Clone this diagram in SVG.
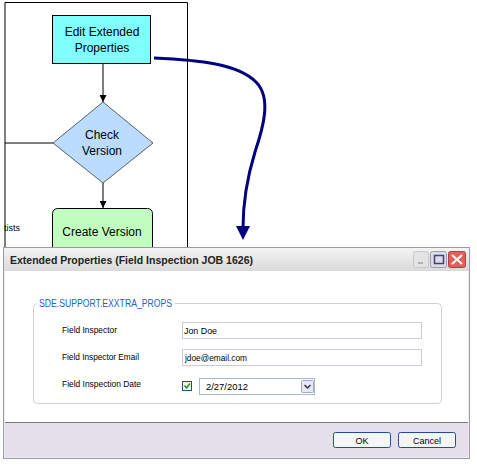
<svg xmlns="http://www.w3.org/2000/svg" width="477" height="466" viewBox="0 0 477 466">
<defs>
<style>
.fc{font-family:"Liberation Sans",Arial,sans-serif;font-size:12px;fill:#000;text-anchor:middle}
.lbl{font-family:"Liberation Sans",Arial,sans-serif;font-size:9px;fill:#000}
.ln{stroke:#000;stroke-width:1;fill:none}
.tb{fill:#fff;stroke:#c5cdd8;stroke-width:1}
.btn{fill:#f6f6f6;stroke:#1c4e9c;stroke-width:1}
</style>
<marker id="ah" viewBox="0 0 10 10" refX="10" refY="5" markerWidth="7" markerHeight="7" markerUnits="userSpaceOnUse" orient="auto"><path d="M0,0 L10,5 L0,10 z" fill="#000"/></marker>
<linearGradient id="tg" x1="0" y1="0" x2="0" y2="1"><stop offset="0" stop-color="#f4f4f4"/><stop offset="1" stop-color="#dadada"/></linearGradient>
</defs>
<rect width="477" height="466" fill="#fff"/>
<g id="lane">
<path class="ln" d="M5,247 V2.5 H187.5 V247"/>
<text x="4" y="231" font-family="Liberation Sans,Arial,sans-serif" font-size="9">tists</text>
</g>
<g id="connectors">
<line class="ln" x1="103" y1="64" x2="103" y2="102" marker-end="url(#ah)"/>
<line class="ln" x1="5" y1="143" x2="53" y2="143"/>
<line class="ln" x1="103" y1="183" x2="103" y2="208" marker-end="url(#ah)"/>
<path d="M154,58 C200,60 238,64 256,82 C272,98 263,128 255,152 C247,178 243,200 243,228" fill="none" stroke="#000080" stroke-width="3"/>
<polygon points="236,226 250,226 243,240" fill="#000080"/>
</g>
<g id="edit">
<rect x="52.5" y="15.5" width="98" height="48" fill="#80ffff" stroke="#000"/>
<text class="fc" x="102" y="36">Edit Extended</text>
<text class="fc" x="102" y="52">Properties</text>
</g>
<g id="check">
<polygon points="103,102 153,143 103,183 53,143" fill="#bbdcff" stroke="#000" stroke-width="0.6"/>
<text class="fc" x="102" y="139">Check</text>
<text class="fc" x="102" y="155">Version</text>
</g>
<g id="create">
<rect x="52.5" y="208.5" width="100" height="60" rx="5" fill="#c0ffc0" stroke="#000"/>
<text class="fc" x="102" y="236">Create Version</text>
</g>
<g id="dialog">
<rect x="3.5" y="247.5" width="466" height="211" fill="#ececec" stroke="#9a9aa8"/>
<rect x="4" y="248" width="465" height="23" fill="url(#tg)"/>
<text x="10" y="264" font-family="Liberation Sans,Arial,sans-serif" font-size="11" font-weight="bold" fill="#222" textLength="243" lengthAdjust="spacingAndGlyphs">Extended Properties (Field Inspection JOB 1626)</text>
<rect x="413.5" y="251.5" width="15" height="16" rx="2" fill="#e4e4e4" stroke="#c8c8c8"/>
<rect x="418" y="262" width="5" height="2" fill="#b0b0b0"/>
<rect x="430.5" y="251.5" width="16" height="16" rx="2" fill="#dcdce4" stroke="#9a9ab0"/>
<rect x="434.5" y="255.5" width="9" height="8" fill="none" stroke="#404080" stroke-width="1.5"/>
<rect x="448.5" y="251.5" width="17" height="16" rx="2" fill="#e0605a" stroke="#b04040"/>
<path d="M452,255 L462,264 M462,255 L452,264" stroke="#fff" stroke-width="2"/>
<rect x="5" y="271" width="463" height="151" fill="#fff"/>
<line x1="5" y1="422.5" x2="468" y2="422.5" stroke="#7a7a7a"/>
<rect x="5" y="423" width="463" height="34" fill="#e4dfe8"/>
<rect x="33.5" y="303.5" width="408" height="100" rx="4" fill="none" stroke="#d0d0c8"/>
<rect x="37" y="298" width="138" height="10" fill="#fff"/>
<text x="39" y="307" font-family="Liberation Sans,Arial,sans-serif" font-size="10" fill="#2060d0" textLength="133" lengthAdjust="spacingAndGlyphs">SDE.SUPPORT.EXXTRA_PROPS</text>
<text class="lbl" x="62" y="333" textLength="55" lengthAdjust="spacingAndGlyphs">Field Inspector</text>
<text class="lbl" x="62" y="360" textLength="77" lengthAdjust="spacingAndGlyphs">Field Inspector Email</text>
<text class="lbl" x="62" y="387" textLength="79" lengthAdjust="spacingAndGlyphs">Field Inspection Date</text>
<rect class="tb" x="182.5" y="322.5" width="239" height="16"/>
<text class="lbl" x="184" y="334" textLength="33" lengthAdjust="spacingAndGlyphs">Jon Doe</text>
<rect class="tb" x="182.5" y="349.5" width="239" height="16"/>
<text class="lbl" x="185" y="361" textLength="62" lengthAdjust="spacingAndGlyphs">jdoe@email.com</text>
<rect x="182.5" y="381.5" width="9" height="9" fill="#f4f4f4" stroke="#1c5180"/>
<path d="M184.5,385.5 L186.5,388 L190,383.5" fill="none" stroke="#21a121" stroke-width="1.6"/>
<rect x="199.5" y="378.5" width="115" height="16" fill="#fff" stroke="#a8b8d0"/>
<text class="lbl" x="206" y="390" textLength="42" lengthAdjust="spacingAndGlyphs">2/27/2012</text>
<rect x="301.5" y="380.5" width="12" height="12" rx="1" fill="#e8e8ee" stroke="#a0a8c0"/>
<path d="M304.5,385 L307.5,388 L310.5,385" fill="none" stroke="#303050" stroke-width="1.5"/>
<rect class="btn" x="333.5" y="432.5" width="57" height="15" rx="2"/>
<text class="lbl" x="362" y="443.5" text-anchor="middle">OK</text>
<rect class="btn" x="398.5" y="432.5" width="57" height="15" rx="2" stroke="#606070"/>
<text class="lbl" x="427" y="443.5" text-anchor="middle">Cancel</text>
</g>
</svg>
